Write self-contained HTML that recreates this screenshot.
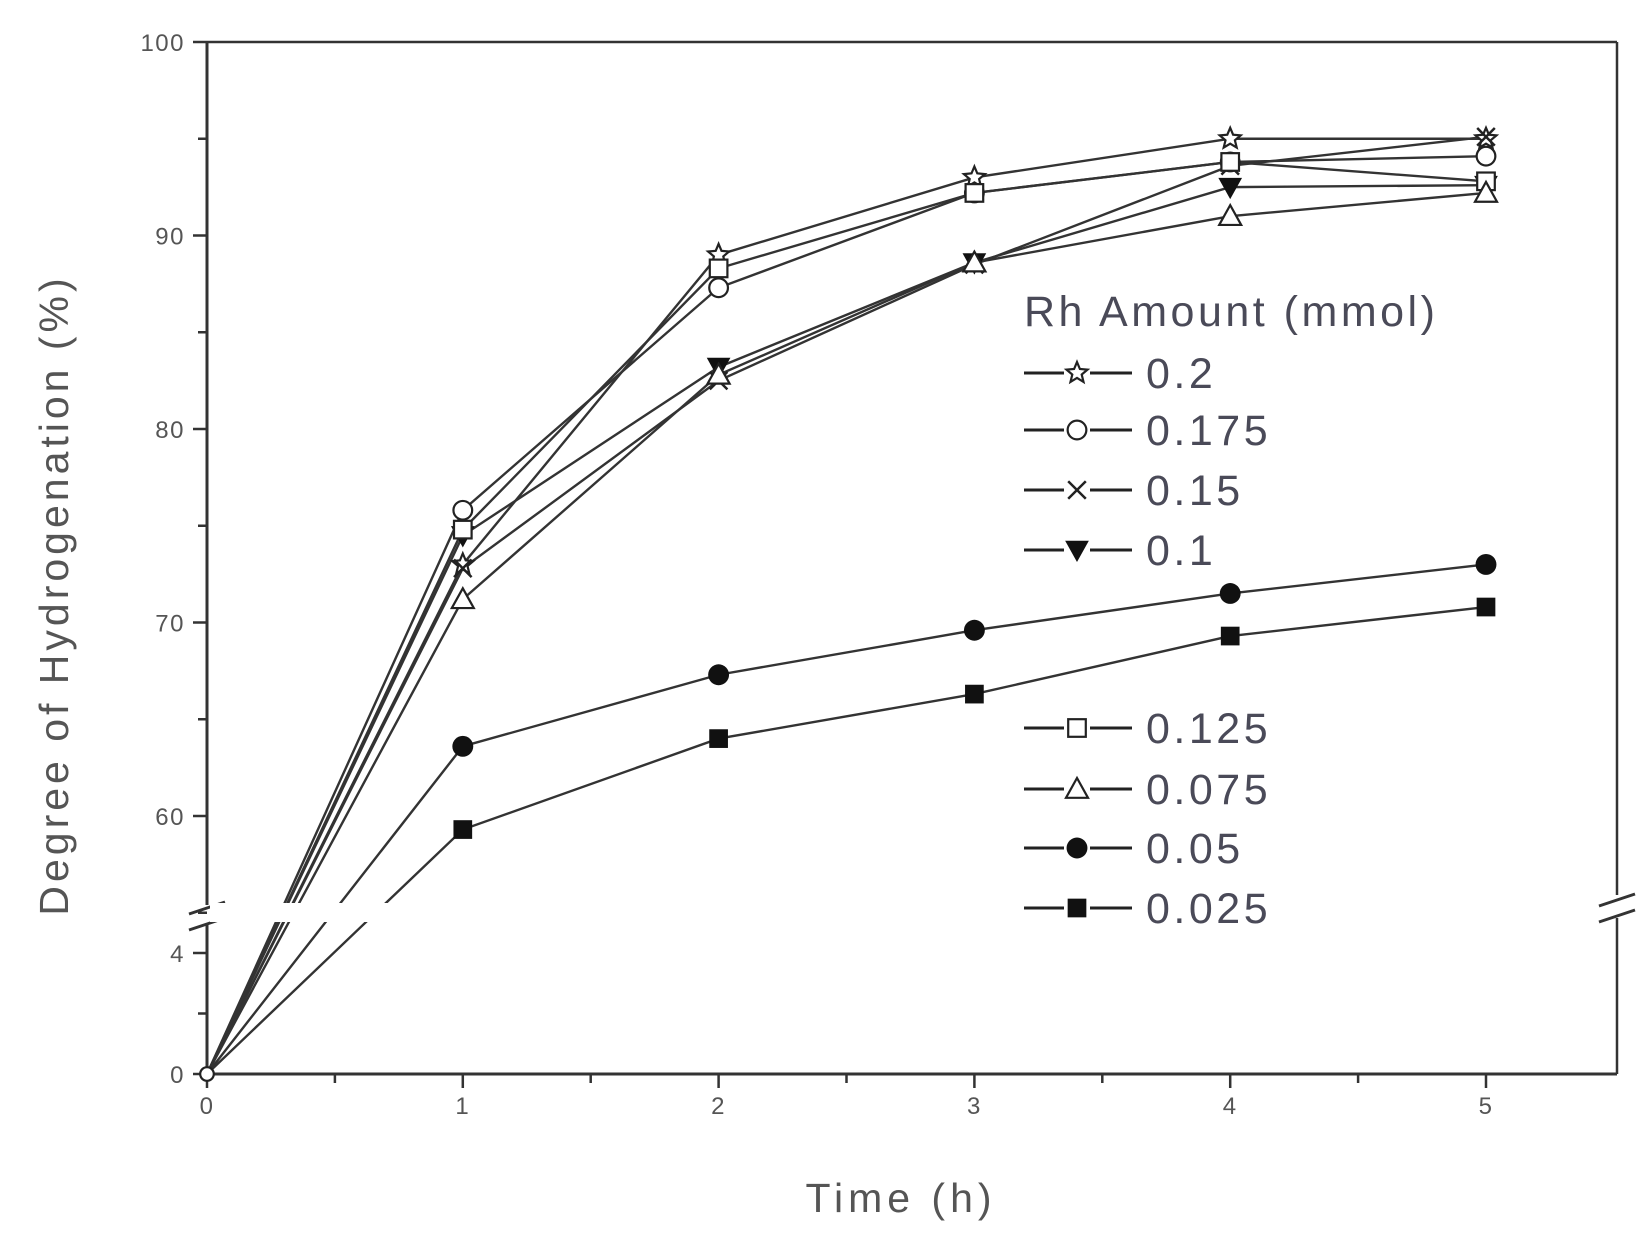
<!DOCTYPE html>
<html><head><meta charset="utf-8"><style>
html,body{margin:0;padding:0;background:#fff;}
svg{display:block;font-family:"Liberation Sans",Arial,sans-serif;}
</style></head><body>
<svg id="s" width="1638" height="1244" viewBox="0 0 1638 1244" xmlns="http://www.w3.org/2000/svg">
<rect width="1638" height="1244" fill="#fff"/>
<g id="g"></g>
</svg>
<script>
const NS="http://www.w3.org/2000/svg";
const g=document.getElementById('g');
function el(t,a,txt){const e=document.createElementNS(NS,t);for(const k in a)e.setAttribute(k,a[k]);if(txt!==undefined)e.textContent=txt;g.appendChild(e);return e;}
const X=t=>207+255.8*t;
const Y=v=>v>=50?42+(100-v)*19.35:1074-v*30.25;
const L=207,R=1617,T=42,B=1074;
el('line',{x1:L,y1:T,x2:R,y2:T,stroke:'#333','stroke-width':2.5});
el('line',{x1:L,y1:B,x2:R,y2:B,stroke:'#333','stroke-width':3});
el('line',{x1:L,y1:T,x2:L,y2:905,stroke:'#333','stroke-width':3});
el('line',{x1:L,y1:923,x2:L,y2:B,stroke:'#333','stroke-width':3});
el('line',{x1:R,y1:T,x2:R,y2:895,stroke:'#333','stroke-width':2.5});
el('line',{x1:R,y1:918,x2:R,y2:B,stroke:'#333','stroke-width':2.5});
[[L,-2],[L,14],[R,-10],[R,6]].forEach(([x,dy])=>{el('line',{x1:x-18,y1:910+dy+6,x2:x+18,y2:910+dy-6,stroke:'#333','stroke-width':3});});
const tf={'font-size':24,fill:'#555','letter-spacing':1.5};
for(let v=60;v<=100;v+=5){const y=Y(v);el('line',{x1:v%10==0?L-14:L-9,y1:y,x2:L,y2:y,stroke:'#333','stroke-width':2.5});
 if(v%10==0)el('text',Object.assign({x:L-22,y:y+9,'text-anchor':'end'},tf),String(v));}
el('line',{x1:L-9,y1:Y(55),x2:L,y2:Y(55),stroke:'#333','stroke-width':2.5});
[[0,1],[2,0],[4,1]].forEach(([v,maj])=>{const y=Y(v);el('line',{x1:maj?L-14:L-9,y1:y,x2:L,y2:y,stroke:'#333','stroke-width':2.5});
 if(maj)el('text',Object.assign({x:L-22,y:y+9,'text-anchor':'end'},tf),String(v));});
for(let i=0;i<=10;i++){const t=i/2,x=X(t);el('line',{x1:x,y1:B,x2:x,y2:i%2==0?B+14:B+9,stroke:'#333','stroke-width':2.5});
 if(i%2==0)el('text',Object.assign({x:x,y:B+40,'text-anchor':'middle'},tf),String(t));}
el('text',{x:901,y:1212,'text-anchor':'middle','font-size':41,fill:'#555','letter-spacing':5},'Time (h)');
el('text',{x:0,y:0,'text-anchor':'middle','font-size':41,fill:'#555','letter-spacing':4,transform:'translate(68,595) rotate(-90)'},'Degree of Hydrogenation (%)');
const S=[
 ['star',[73,89,93,95,95]],
 ['circ',[75.8,87.3,92.2,93.8,94.1]],
 ['x',[72.8,82.5,88.5,93.6,95.1]],
 ['dtri',[74.5,83.2,88.6,92.5,92.6]],
 ['sq',[74.8,88.3,92.2,93.8,92.8]],
 ['tri',[71.2,82.8,88.6,91.0,92.2]],
 ['fcirc',[63.6,67.3,69.6,71.5,73.0]],
 ['fsq',[59.3,64.0,66.3,69.3,70.8]]];
S.forEach(([m,d])=>{let pts=[[X(0),Y(0)]];d.forEach((v,i)=>pts.push([X(i+1),Y(v)]));
 el('polyline',{points:pts.map(p=>p.join(',')).join(' '),fill:'none',stroke:'#333','stroke-width':2.4});});
el('polygon',{points:`${L+3},903 620,903 620,922 ${L+3},922`,fill:'#fff'});
function mk(m,x,y,s){s=s||11;
 if(m=='star'){let p=[];for(let k=0;k<10;k++){const r=k%2?s*0.45:s,a=-Math.PI/2+k*Math.PI/5;p.push((x+r*Math.cos(a)).toFixed(1)+','+(y+r*Math.sin(a)).toFixed(1));}el('polygon',{points:p.join(' '),fill:'#fff',stroke:'#222','stroke-width':2.2});}
 else if(m=='circ')el('circle',{cx:x,cy:y,r:s*0.85,fill:'#fff',stroke:'#222','stroke-width':2.2});
 else if(m=='fcirc')el('circle',{cx:x,cy:y,r:s*0.95,fill:'#111'});
 else if(m=='x'){el('line',{x1:x-s*.8,y1:y-s*.8,x2:x+s*.8,y2:y+s*.8,stroke:'#222','stroke-width':2.5});el('line',{x1:x-s*.8,y1:y+s*.8,x2:x+s*.8,y2:y-s*.8,stroke:'#222','stroke-width':2.5});}
 else if(m=='sq')el('rect',{x:x-s*.8,y:y-s*.8,width:s*1.6,height:s*1.6,fill:'#fff',stroke:'#222','stroke-width':2.2});
 else if(m=='fsq')el('rect',{x:x-s*.85,y:y-s*.85,width:s*1.7,height:s*1.7,fill:'#111'});
 else if(m=='tri')el('polygon',{points:`${x},${y-s} ${x-s},${y+s*.8} ${x+s},${y+s*.8}`,fill:'#fff',stroke:'#222','stroke-width':2.2});
 else if(m=='dtri')el('polygon',{points:`${x},${y+s} ${x-s},${y-s*.8} ${x+s},${y-s*.8}`,fill:'#111',stroke:'#111','stroke-width':1});
}
S.forEach(([m,d])=>{d.forEach((v,i)=>mk(m,X(i+1),Y(v)));});
mk('circ',X(0),Y(0),8);
const lf={'font-size':43,fill:'#4a4a58','letter-spacing':3.5};
el('text',Object.assign({x:1024,y:326},lf),'Rh Amount (mmol)');
const LG=[['star','0.2',373],['circ','0.175',430],['x','0.15',490],['dtri','0.1',550],['sq','0.125',728],['tri','0.075',789],['fcirc','0.05',848],['fsq','0.025',908]];
LG.forEach(([m,t,y])=>{el('line',{x1:1024,y1:y,x2:1132,y2:y,stroke:'#222','stroke-width':3});
 el('rect',{x:1064,y:y-12,width:26,height:24,fill:'#fff'});
 mk(m,1077,y,11);
 el('text',Object.assign({x:1146,y:y+15},lf),t);});
</script>
</body></html>
